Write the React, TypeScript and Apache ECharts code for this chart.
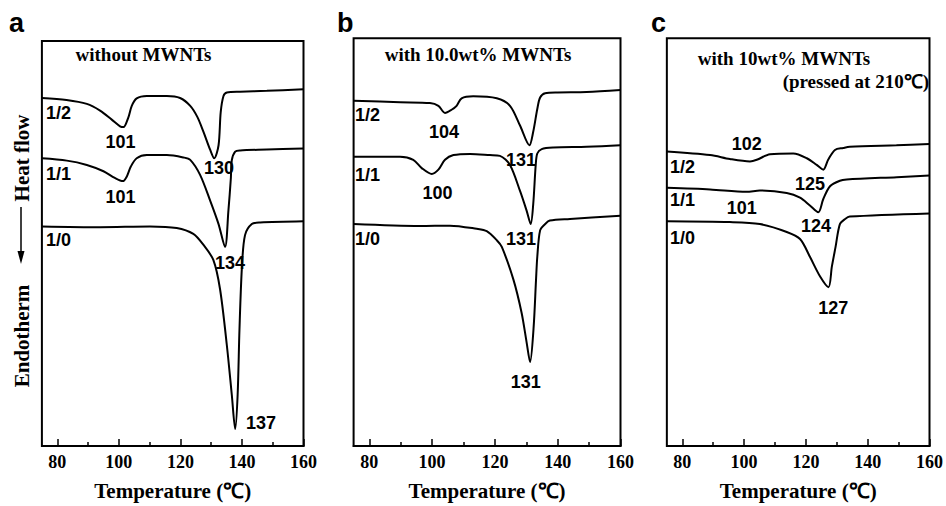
import React, { useEffect, useRef } from "react";
import * as echarts from "echarts";

// ---------- data ----------
const X_MIN = 75;
const X_MAX = 160;
const xMajorTicks = [80, 100, 120, 140, 160];
const xMinorTicks = [90, 110, 130, 150];
const xAxisTitle = "Temperature (℃)";
const panelLetters = ["a", "b", "c"];
const ratioNames = ["1/2", "1/1", "1/0"];
const panelTitles = ["without MWNTs", "with 10.0wt% MWNTs", "with 10wt% MWNTs"];
const panelSubtitle = "(pressed at 210℃)";

// Heat flow (arbitrary units) vs temperature (°C)
// Panel a – without MWNTs
const a12 = [[75,88.3],[83,87.8],[89.6,86.8],[93.9,85.1],[97.7,82.8],[100.4,81.1],[101.5,80.9],[103.1,83.4],[104.2,86.3],[105.8,88.2],[109.1,88.8],[115.6,88.8],[119.9,88.3],[123.2,86.3],[125.5,83.5],[127.5,79.7],[129.7,75.1],[131,73],[132.4,76.3],[133.1,84.7],[134,88.8],[135.1,89.7],[139.4,89.9],[148.1,90.1],[160,90.5]];
const a11 = [[75,73],[83.1,72.4],[89.6,71.3],[95,69.7],[98.7,68],[101.3,67.2],[102.6,68.4],[103.9,70.9],[105.8,73],[109.1,73.8],[115.6,73.8],[121,73.2],[123.2,72.6],[126.4,68.8],[129.7,62.2],[132.4,56.3],[134.5,50.5],[135.6,59.7],[136.4,68],[136.7,72.5],[137.8,74.7],[139.4,75],[148.1,75.2],[160,75.5]];
const a10 = [[75,55.7],[93.9,55.5],[110.1,55.7],[118.8,55.3],[124.2,53.8],[127.5,51],[130.7,47.2],[132.9,39.7],[135.1,25.5],[136.7,13],[137.8,4.3],[138.6,13],[139.2,29.7],[140,45.5],[141,53.5],[143.2,56.3],[145.9,56.7],[160,57]];
const peaksA = ["101", "130", "101", "134", "137"];

// Panel b – with 10.0 wt% MWNTs
const b12 = [[75,87.6],[89.8,87.2],[99.3,87],[102,86.3],[104.1,84.5],[106.2,85.3],[107.8,86.3],[109.4,88.2],[113.1,88.7],[120.6,88.2],[124.8,86.3],[128,81.3],[131,76.3],[132.2,79.7],[133.5,85.5],[134.4,88.4],[136,89.5],[140,89.7],[149.2,89.8],[160,90.3]];
const b11 = [[75,73.4],[89.8,73.4],[94,72.6],[96.7,70.5],[99.9,69],[102,70.1],[104.1,72.6],[106.8,73.8],[112.1,74.1],[118.4,73.8],[121.6,73.6],[124.8,71.3],[128,64.7],[130.1,59.7],[131.4,56.3],[132.2,61.3],[133,71.3],[133.5,74.2],[134.9,75.3],[138.6,75.7],[149.2,75.9],[160,76.3]];
const b10 = [[75,56.3],[96.1,55.8],[105.7,55.9],[114.2,55.1],[117.4,54.5],[120.6,52.2],[122.2,50.5],[125.9,42.2],[128.5,33.8],[130.1,26.3],[131.2,21.3],[132.3,29.7],[133.1,42.2],[133.5,48],[134.4,54.7],[136,56.3],[137.5,57.2],[143.9,57.6],[160,58.4]];
const peaksB = ["104", "131", "100", "131", "131"];

// Panel c – with 10 wt% MWNTs, pressed at 210 °C
const c12 = [[75,74.7],[89,73.8],[95.4,72.8],[101.9,72.2],[104.1,72.6],[108.4,74],[115.9,74.2],[120.3,73],[123.5,71.3],[125.6,70.1],[127.2,72.6],[129.4,75.1],[132.1,75.6],[134.2,75.9],[149.3,76.3],[160,76.6]];
const c11 = [[75,65.5],[89,65.1],[100.8,64.5],[105.1,64.8],[113.8,64.2],[118.1,63],[121.3,61],[124,59.3],[125.6,62.6],[127.8,65.9],[131,67.3],[133.2,67.6],[149.4,68.2],[160,68.6]];
const c10 = [[75,57],[95.4,56.8],[105.1,56.3],[113.8,54.3],[118.1,52.5],[121.3,48],[124.6,43],[127.3,40.3],[128.4,45.5],[129.6,50.5],[131,56.3],[132.7,57.6],[134.2,58.2],[160,59]];
const peaksC = ["102", "125", "101", "124", "127"];

const curves = [
  [a12, a11, a10],
  [b12, b11, b10],
  [c12, c11, c10],
];
const peaks = [peaksA, peaksB, peaksC];

// ---------- layout / style ----------
const SERIF = "'Liberation Serif', 'Times New Roman', serif";
const SANS = "'Liberation Sans', Arial, sans-serif";
const grids = [
  { left: 41.9, top: 41, width: 261.6, height: 411 },
  { left: 353.6, top: 38.3, width: 266.9, height: 413.7 },
  { left: 666.85, top: 38.3, width: 262.65, height: 413.7 },
];
const letterPos = [[9, 23], [337, 23], [651, 23]];
const titlePos = [[143.5, 54], [478, 54], [784, 58]];
const ratioPos = [
  [[46, 113], [46, 174], [46, 240]],
  [[355, 115], [355, 175], [355, 238.5]],
  [[670, 166.7], [670, 200], [670, 238]],
];
const peakPos = [
  [[120.5, 141.5], [219, 168], [120.5, 196.5], [230, 262.5], [261, 422.5]],
  [[444, 131.7], [521, 159.5], [437.5, 192.5], [521, 239], [525.8, 381.7]],
  [[746.7, 144], [810, 184], [741.7, 207.5], [816, 225.5], [833.3, 307.5]],
];

function txt(x: number, y: number, text: string, font: string, align = "center", rotation = 0) {
  return {
    type: "text",
    x,
    y,
    rotation,
    silent: true,
    style: {
      text,
      font,
      fill: "#000",
      textAlign: align,
      textVerticalAlign: "middle",
      align,
      verticalAlign: "middle",
    },
  };
}

function buildOption() {
  const xAxis: any[] = [];
  const yAxis: any[] = [];
  const series: any[] = [];
  const graphic: any[] = [];

  grids.forEach((g, i) => {
    xAxis.push({
      gridIndex: i,
      type: "value",
      min: X_MIN,
      max: X_MAX,
      position: "bottom",
      axisLine: { show: true, onZero: false, lineStyle: { color: "#000", width: 2 } },
      axisTick: { show: true, inside: true, length: 7, customValues: xMajorTicks, lineStyle: { color: "#000", width: 1.5 } },
      axisLabel: { show: true, customValues: xMajorTicks, color: "#000", fontFamily: SERIF, fontWeight: "bold", fontSize: 18, margin: 7 },
      splitLine: { show: false },
      name: xAxisTitle,
      nameLocation: "middle",
      nameGap: 34,
      nameTextStyle: { color: "#000", fontFamily: SERIF, fontWeight: "bold", fontSize: 21 },
    });
    xAxis.push({
      gridIndex: i,
      type: "value",
      min: X_MIN,
      max: X_MAX,
      position: "bottom",
      axisLine: { show: false, onZero: false },
      axisTick: { show: true, inside: true, length: 4, customValues: xMinorTicks, lineStyle: { color: "#000", width: 1.5 } },
      axisLabel: { show: false },
      splitLine: { show: false },
    });
    yAxis.push({ gridIndex: i, type: "value", min: 0, max: g.height / 4, show: false, splitLine: { show: false } });

    curves[i].forEach((data, k) => {
      series.push({
        type: "line",
        name: `${panelLetters[i]} ${ratioNames[k]}`,
        xAxisIndex: 2 * i,
        yAxisIndex: i,
        data,
        symbol: "none",
        showSymbol: false,
        smooth: 0.3,
        silent: true,
        lineStyle: { color: "#000", width: 2 },
      });
    });

    graphic.push(txt(letterPos[i][0], letterPos[i][1], panelLetters[i], `bold 27px ${SANS}`, "left"));
    graphic.push(txt(titlePos[i][0], titlePos[i][1], panelTitles[i], `bold 19px ${SERIF}`));
    ratioNames.forEach((r, k) => graphic.push(txt(ratioPos[i][k][0], ratioPos[i][k][1], r, `bold 18px ${SANS}`, "left")));
    peaks[i].forEach((p, k) => graphic.push(txt(peakPos[i][k][0], peakPos[i][k][1], p, `bold 18px ${SANS}`)));
  });

  graphic.push(txt(929, 81, panelSubtitle, `bold 19px ${SERIF}`, "right"));
  // y-axis title with arrow
  graphic.push(txt(22, 158, "Heat flow", `bold 21px ${SERIF}`, "center", Math.PI / 2));
  graphic.push(txt(22, 336, "Endotherm", `bold 21px ${SERIF}`, "center", Math.PI / 2));
  graphic.push({ type: "line", silent: true, shape: { x1: 21, y1: 207, x2: 21, y2: 254 }, style: { stroke: "#000", lineWidth: 1.5 } });
  graphic.push({ type: "polygon", silent: true, shape: { points: [[17.5, 251], [24.5, 251], [21, 264]] }, style: { fill: "#000" } });

  return {
    animation: false,
    backgroundColor: "#fff",
    grid: grids.map((g) => ({ ...g, show: true, borderColor: "#000", borderWidth: 2, backgroundColor: "transparent" })),
    xAxis,
    yAxis,
    series,
    graphic,
  };
}

export default function App() {
  const ref = useRef<HTMLDivElement>(null);
  useEffect(() => {
    if (!ref.current) return;
    const chart = echarts.init(ref.current, undefined, { renderer: "svg" });
    chart.setOption(buildOption() as any);
    return () => chart.dispose();
  }, []);
  return <div ref={ref} style={{ position: "absolute", left: 0, top: 0, width: 946, height: 506, background: "#fff" }} />;
}
